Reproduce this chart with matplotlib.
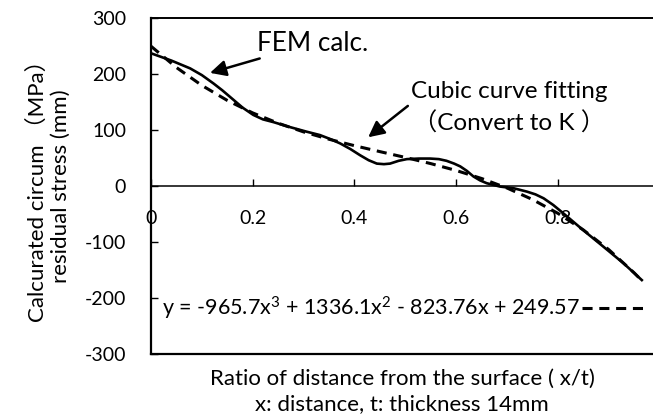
import numpy as np
import matplotlib
matplotlib.use('Agg')
import matplotlib.pyplot as plt

plt.rcParams['font.family'] = ['Lato', 'Noto Sans CJK JP', 'DejaVu Sans']
plt.rcParams['axes.unicode_minus'] = False
plt.rcParams['mathtext.fontset'] = 'custom'
plt.rcParams['mathtext.rm'] = 'Lato'
plt.rcParams['mathtext.it'] = 'Lato'

# FEM result (solid line)
fem_x = [0, 0.04, 0.077, 0.10, 0.123, 0.14, 0.162, 0.18, 0.201, 0.22, 0.241,
         0.27, 0.306, 0.332, 0.352, 0.372, 0.392, 0.411, 0.428, 0.444, 0.458,
         0.470, 0.487, 0.503, 0.527, 0.549, 0.566, 0.581, 0.596, 0.608, 0.621,
         0.634, 0.647, 0.660, 0.686, 0.713, 0.739, 0.756, 0.772, 0.791, 0.811,
         0.850, 0.889, 0.929, 0.965]
fem_y = [237, 224, 210, 198, 183, 171, 154, 140, 127, 119, 114,
         106, 97, 91, 84, 76, 66, 55, 46, 40, 39,
         40, 45, 48, 49, 49, 48, 45, 40, 35, 27,
         17, 10, 5, -1, -4, -10, -15, -22, -34, -49,
         -79, -108, -138, -168]

# cubic fit (dashed line)
fit_x = [0, 0.05, 0.1, 0.15, 0.2, 0.25, 0.3, 0.35, 0.4, 0.45, 0.5,
         0.55, 0.6, 0.65, 0.7, 0.75, 0.8, 0.85, 0.9, 0.95, 0.965]
fit_y = [249.6, 211.6, 179.6, 152.8, 130.5, 112.1, 96.6, 83.5, 72.0, 61.4, 51.0,
         40.0, 27.7, 13.4, -3.6, -24.1, -48.8, -78.4, -113.6, -155.1, -169.0]

eq_label = 'y = -965.7x$^3$ + 1336.1x$^2$ - 823.76x + 249.57'
x_ticks = [0, 0.2, 0.4, 0.6, 0.8]
x_tick_labels = ['0', '0.2', '0.4', '0.6', '0.8']
y_ticks = [-300, -200, -100, 0, 100, 200, 300]

fig = plt.figure(figsize=(6.53, 4.18), dpi=100)
ax = fig.add_axes([151/653, 1-354/418, 502/653, 336/418])

ax.plot(fem_x, fem_y, color='black', lw=1.9, solid_joinstyle='round')
fit_line, = ax.plot(fit_x, fit_y, color='black', lw=2.2, ls=(0, (3.3, 2.2)))

ax.set_xlim(0, 0.987)
ax.set_ylim(-300, 300)

ax.spines['right'].set_visible(False)
ax.spines['bottom'].set_position(('data', 0))
ax.spines['bottom'].set_linewidth(1.1)
ax.spines['left'].set_linewidth(1.6)
ax.spines['top'].set_linewidth(1.4)
ax.axhline(-300, color='black', lw=1.6, clip_on=False)

ax.set_xticks(x_ticks)
ax.set_xticklabels(x_tick_labels)
ax.set_yticks(y_ticks)
ax.tick_params(axis='x', direction='in', length=5, width=1, pad=17, labelsize=14)
ax.tick_params(axis='y', direction='in', length=5, width=1, pad=18, labelsize=14)

ax.set_ylabel('Calcurated circum （MPa）\nresidual stress (mm)', fontsize=16,
              linespacing=1.2)
ax.yaxis.set_label_coords(-0.16, 0.5)
ax.set_xlabel('Ratio of distance from the surface ( x/t)\nx: distance, t: thickness 14mm',
              fontsize=16, linespacing=1.3)
ax.xaxis.set_label_coords(0.5, -0.045)

ax.annotate('FEM calc.', xy=(0.116, 202), xytext=(0.208, 255),
            fontsize=18.8, ha='left', va='center',
            arrowprops=dict(arrowstyle='-|>', color='black', lw=1.8,
                            mutation_scale=24, shrinkA=0, shrinkB=0))
ax.text(0.704, 168, 'Cubic curve fitting', fontsize=17.5, ha='center', va='center')
ax.text(0.704, 112, '（Convert to K ）', fontsize=17.5, ha='center', va='center')
ax.annotate('', xy=(0.427, 87), xytext=(0.505, 143),
            arrowprops=dict(arrowstyle='-|>', color='black', lw=1.8,
                            mutation_scale=24, shrinkA=0, shrinkB=0))

ax.legend([fit_line], [eq_label], loc='center left', bbox_to_anchor=(0.022, 0.137),
          frameon=False, markerfirst=False, handlelength=2.9, handletextpad=0.1,
          fontsize=15.5, borderaxespad=0, borderpad=0)

fig.savefig('out.png', dpi=100)
